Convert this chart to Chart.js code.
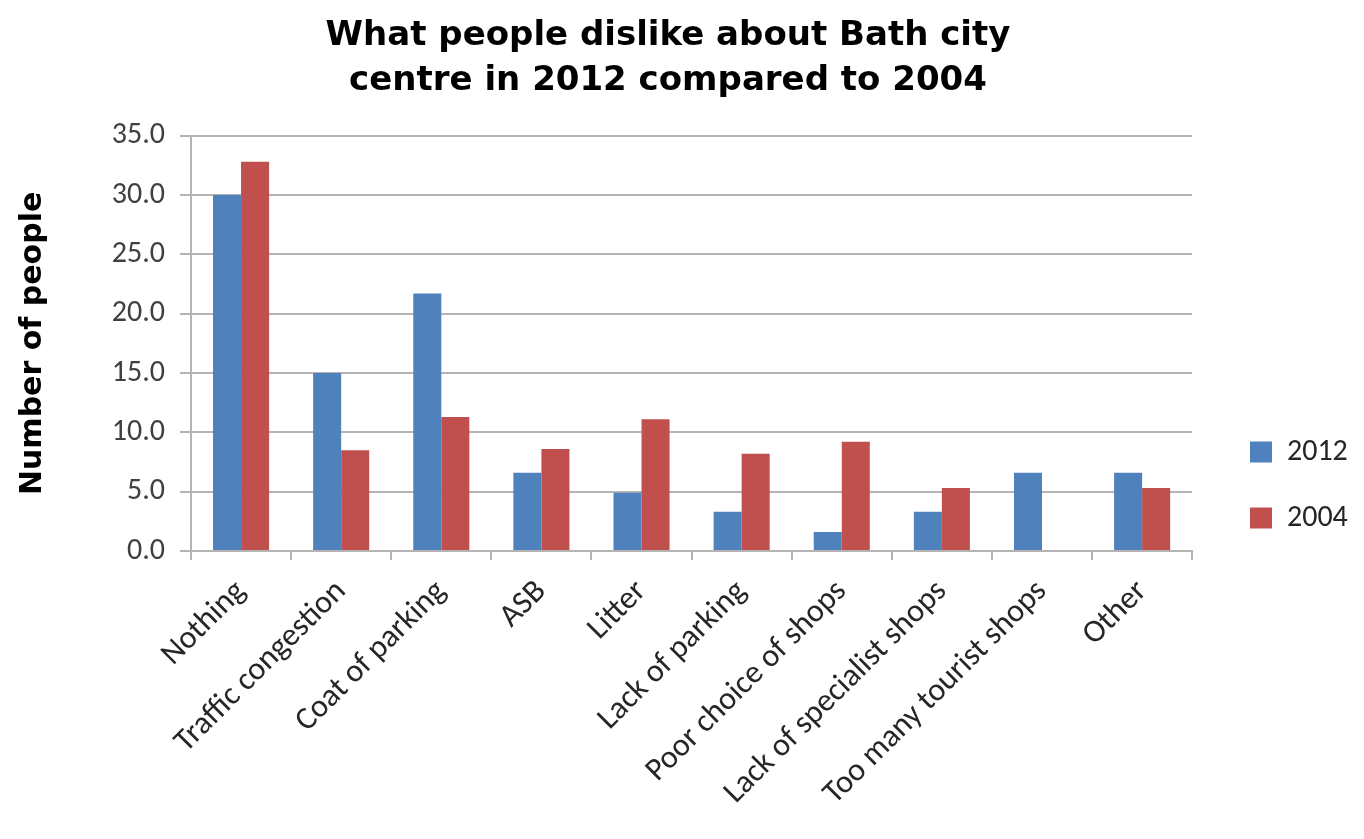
<!DOCTYPE html>
<html>
<head>
<meta charset="utf-8">
<script src="https://cdn.jsdelivr.net/npm/chart.js@4/dist/chart.umd.min.js"></script>
<style>
  html, body { margin: 0; padding: 0; background: #ffffff; }
  #wrap { width: 1364px; height: 839px; }
</style>
</head>
<body>
<div id="wrap"><canvas id="c" width="1364" height="839"></canvas></div>
<script>
const categories = ["Nothing", "Traffic congestion", "Coat of parking", "ASB", "Litter", "Lack of parking", "Poor choice of shops", "Lack of specialist shops", "Too many tourist shops", "Other"];
const values2012 = [30.0, 15.0, 21.7, 6.6, 4.9, 3.3, 1.6, 3.3, 6.6, 6.6];
const values2004 = [32.8, 8.5, 11.3, 8.6, 11.1, 8.2, 9.2, 5.3, 0, 5.3];
const titleLines = ["What people dislike about Bath city", "centre in 2012 compared to 2004"];
const yAxisTitle = "Number of people";

const PLOT_LEFT = 191, PLOT_BOTTOM = 551, H = 839;
const LEGEND_X = 1250, LEGEND_TOP = 401;

const legendPlacer = {
  id: 'legendPlacer',
  afterLayout(chart) {
    const lg = chart.legend;
    if (!lg) return;
    const w = lg.width, h = lg.height;
    const pad = lg.options.labels.padding;
    lg.left = LEGEND_X - pad; lg.right = lg.left + w;
    lg.top = LEGEND_TOP - (pad - 36); lg.bottom = lg.top + h;
  }
};

new Chart(document.getElementById('c'), {
  type: 'bar',
  data: {
    labels: categories,
    datasets: [
      { label: "2012", data: values2012, backgroundColor: '#4F81BD', borderWidth: 0 },
      { label: "2004", data: values2004, backgroundColor: '#C0504D', borderWidth: 0 }
    ]
  },
  options: {
    responsive: false,
    animation: false,
    devicePixelRatio: 1,
    layout: { padding: { left: 0, right: 28, top: 0, bottom: 0 } },
    datasets: { bar: { barPercentage: 1.0, categoryPercentage: 0.56 } },
    plugins: {
      title: {
        display: true,
        text: titleLines,
        color: '#000000',
        font: { family: "'Comic Sans MS', 'DejaVu Sans', sans-serif", size: 34, weight: 'bold', lineHeight: 1.32 },
        padding: { top: 14, bottom: 32 }
      },
      legend: {
        display: true,
        position: 'right',
        align: 'start',
        labels: {
          boxWidth: 22, boxHeight: 21, padding: 36,
          color: '#262626',
          font: { family: "Carlito, Lato, sans-serif", size: 30 }
        }
      },
      tooltip: { enabled: false }
    },
    scales: {
      x: {
        grid: { display: true, drawOnChartArea: false, offset: true, color: '#b4b4b4', lineWidth: 2, tickLength: 9 },
        border: { display: true, color: '#b4b4b4', width: 2 },
        ticks: {
          color: '#262626', minRotation: 45, maxRotation: 45, autoSkip: false, padding: 13,
          font: { family: "Carlito, Lato, sans-serif", size: 32 }
        },
        afterFit(scale) { scale.height = H - PLOT_BOTTOM; }
      },
      y: {
        min: 0, max: 35,
        grid: { color: '#b4b4b4', lineWidth: 2, tickLength: 11 },
        border: { display: true, color: '#b4b4b4', width: 2 },
        ticks: {
          stepSize: 5, color: '#404040', padding: 15,
          font: { family: "Carlito, Lato, sans-serif", size: 30 },
          callback: (v) => Number(v).toFixed(1)
        },
        title: {
          display: true, text: yAxisTitle, color: '#000000',
          font: { family: "'Comic Sans MS', 'DejaVu Sans', sans-serif", size: 30, weight: 'bold' },
          padding: { top: 15, bottom: 0 }
        },
        afterFit(scale) { scale.width = PLOT_LEFT; }
      }
    }
  },
  plugins: [legendPlacer]
});
</script>
</body>
</html>
